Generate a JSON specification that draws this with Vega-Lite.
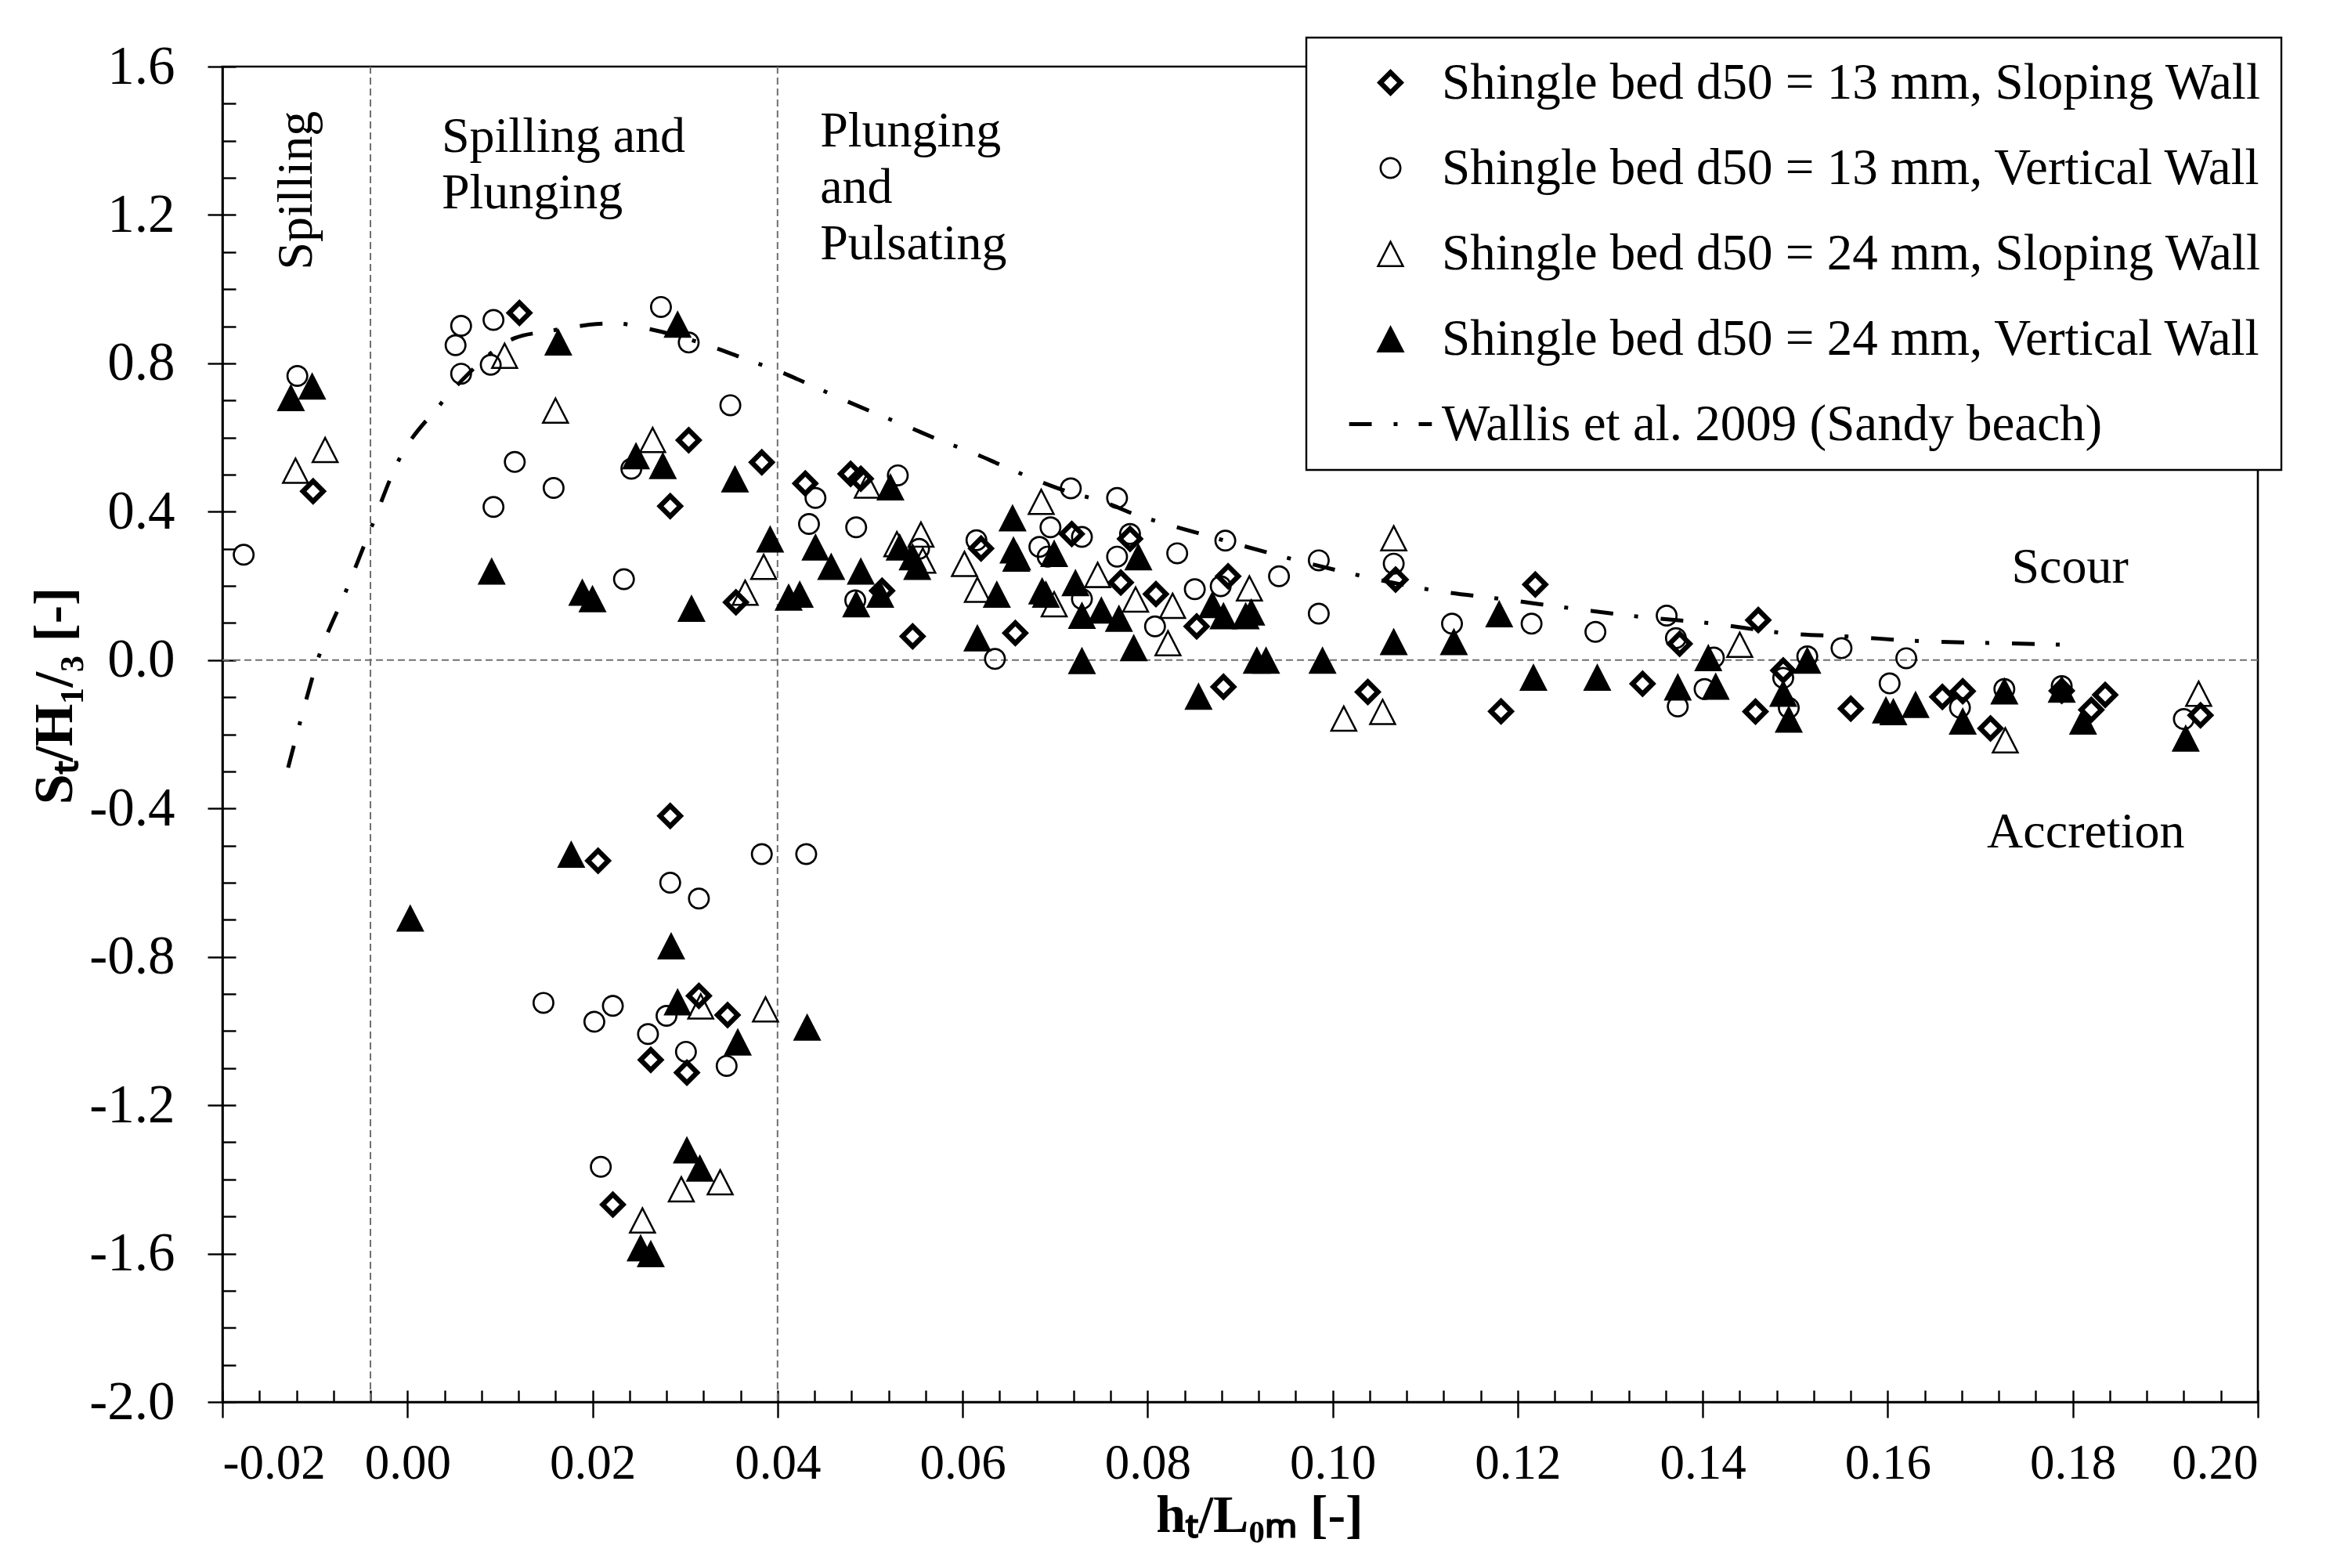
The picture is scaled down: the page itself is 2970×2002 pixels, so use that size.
{
  "$schema": "https://vega.github.io/schema/vega-lite/v6.json",
  "width": 2599,
  "height": 1705,
  "autosize": {"type": "none"},
  "padding": {"left": 284, "top": 85, "right": 87, "bottom": 212},
  "background": "white",
  "config": {
    "view": {"stroke": "black", "strokeWidth": 2.6},
    "font": "Liberation Serif",
    "axis": {
      "labelFont": "Liberation Serif", "titleFont": "Liberation Serif",
      "labelColor": "black", "titleColor": "black",
      "domainColor": "black", "tickColor": "black",
      "domainWidth": 2.6, "tickWidth": 2.4, "grid": false
    },
    "legend": {"strokeWidth": 2.4},
    "text": {"font": "Liberation Serif", "color": "black"}
  },
  "datasets": {
    "regimes": [{"x": -0.004}, {"x": 0.04}],
    "zero": [{"y": 0}],
    "regimeLabels": [
      {"x": 0.0037, "y": 1.37, "label": "Spilling and\nPlunging"},
      {"x": 0.0446, "y": 1.384, "label": "Plunging\nand\nPulsating"}
    ],
    "zoneLabels": [
      {"x": 0.1797, "y": 0.209, "label": "Scour"},
      {"x": 0.1814, "y": -0.505, "label": "Accretion"}
    ],
    "spilling": [{"x": -0.012, "y": 1.266, "label": "Spilling"}],
    "wallis": [
      {"x": -0.0129, "y": -0.29}, {"x": -0.0116, "y": -0.167}, {"x": -0.0096, "y": 0.008},
      {"x": -0.0067, "y": 0.183}, {"x": -0.0039, "y": 0.358}, {"x": -0.0011, "y": 0.531},
      {"x": 0.0033, "y": 0.682}, {"x": 0.0058, "y": 0.752}, {"x": 0.0116, "y": 0.868},
      {"x": 0.0151, "y": 0.886}, {"x": 0.0224, "y": 0.908}, {"x": 0.0262, "y": 0.892},
      {"x": 0.033, "y": 0.844}, {"x": 0.0368, "y": 0.809}, {"x": 0.0402, "y": 0.778},
      {"x": 0.0438, "y": 0.739}, {"x": 0.0472, "y": 0.701}, {"x": 0.0507, "y": 0.664},
      {"x": 0.0541, "y": 0.629}, {"x": 0.0576, "y": 0.592}, {"x": 0.0611, "y": 0.559},
      {"x": 0.0645, "y": 0.522}, {"x": 0.068, "y": 0.485}, {"x": 0.0716, "y": 0.452},
      {"x": 0.0751, "y": 0.428}, {"x": 0.0786, "y": 0.393}, {"x": 0.0821, "y": 0.366},
      {"x": 0.0858, "y": 0.34}, {"x": 0.0896, "y": 0.313}, {"x": 0.1003, "y": 0.243},
      {"x": 0.1114, "y": 0.186}, {"x": 0.1184, "y": 0.164}, {"x": 0.1263, "y": 0.138},
      {"x": 0.1335, "y": 0.116}, {"x": 0.1412, "y": 0.098}, {"x": 0.1487, "y": 0.073},
      {"x": 0.156, "y": 0.063}, {"x": 0.1635, "y": 0.051}, {"x": 0.1712, "y": 0.046},
      {"x": 0.1799, "y": 0.041}
    ],
    "points": [
      {"x": -0.0102, "y": 0.455, "series": "Shingle bed d50 = 13 mm, Sloping Wall"},
      {"x": 0.0121, "y": 0.936, "series": "Shingle bed d50 = 13 mm, Sloping Wall"},
      {"x": 0.0304, "y": 0.593, "series": "Shingle bed d50 = 13 mm, Sloping Wall"},
      {"x": 0.0284, "y": 0.415, "series": "Shingle bed d50 = 13 mm, Sloping Wall"},
      {"x": 0.0383, "y": 0.533, "series": "Shingle bed d50 = 13 mm, Sloping Wall"},
      {"x": 0.043, "y": 0.476, "series": "Shingle bed d50 = 13 mm, Sloping Wall"},
      {"x": 0.0355, "y": 0.156, "series": "Shingle bed d50 = 13 mm, Sloping Wall"},
      {"x": 0.0513, "y": 0.187, "series": "Shingle bed d50 = 13 mm, Sloping Wall"},
      {"x": 0.0479, "y": 0.502, "series": "Shingle bed d50 = 13 mm, Sloping Wall"},
      {"x": 0.049, "y": 0.489, "series": "Shingle bed d50 = 13 mm, Sloping Wall"},
      {"x": 0.0546, "y": 0.064, "series": "Shingle bed d50 = 13 mm, Sloping Wall"},
      {"x": 0.062, "y": 0.301, "series": "Shingle bed d50 = 13 mm, Sloping Wall"},
      {"x": 0.0657, "y": 0.073, "series": "Shingle bed d50 = 13 mm, Sloping Wall"},
      {"x": 0.0718, "y": 0.34, "series": "Shingle bed d50 = 13 mm, Sloping Wall"},
      {"x": 0.0781, "y": 0.327, "series": "Shingle bed d50 = 13 mm, Sloping Wall"},
      {"x": 0.0771, "y": 0.209, "series": "Shingle bed d50 = 13 mm, Sloping Wall"},
      {"x": 0.0809, "y": 0.178, "series": "Shingle bed d50 = 13 mm, Sloping Wall"},
      {"x": 0.0853, "y": 0.091, "series": "Shingle bed d50 = 13 mm, Sloping Wall"},
      {"x": 0.0887, "y": 0.226, "series": "Shingle bed d50 = 13 mm, Sloping Wall"},
      {"x": 0.1068, "y": 0.217, "series": "Shingle bed d50 = 13 mm, Sloping Wall"},
      {"x": 0.0882, "y": -0.072, "series": "Shingle bed d50 = 13 mm, Sloping Wall"},
      {"x": 0.1038, "y": -0.086, "series": "Shingle bed d50 = 13 mm, Sloping Wall"},
      {"x": 0.1219, "y": 0.204, "series": "Shingle bed d50 = 13 mm, Sloping Wall"},
      {"x": 0.1182, "y": -0.138, "series": "Shingle bed d50 = 13 mm, Sloping Wall"},
      {"x": 0.1335, "y": -0.064, "series": "Shingle bed d50 = 13 mm, Sloping Wall"},
      {"x": 0.1375, "y": 0.044, "series": "Shingle bed d50 = 13 mm, Sloping Wall"},
      {"x": 0.146, "y": 0.108, "series": "Shingle bed d50 = 13 mm, Sloping Wall"},
      {"x": 0.1457, "y": -0.139, "series": "Shingle bed d50 = 13 mm, Sloping Wall"},
      {"x": 0.1487, "y": -0.028, "series": "Shingle bed d50 = 13 mm, Sloping Wall"},
      {"x": 0.156, "y": -0.131, "series": "Shingle bed d50 = 13 mm, Sloping Wall"},
      {"x": 0.1659, "y": -0.099, "series": "Shingle bed d50 = 13 mm, Sloping Wall"},
      {"x": 0.1681, "y": -0.084, "series": "Shingle bed d50 = 13 mm, Sloping Wall"},
      {"x": 0.1711, "y": -0.184, "series": "Shingle bed d50 = 13 mm, Sloping Wall"},
      {"x": 0.1788, "y": -0.083, "series": "Shingle bed d50 = 13 mm, Sloping Wall"},
      {"x": 0.1835, "y": -0.094, "series": "Shingle bed d50 = 13 mm, Sloping Wall"},
      {"x": 0.182, "y": -0.134, "series": "Shingle bed d50 = 13 mm, Sloping Wall"},
      {"x": 0.1938, "y": -0.149, "series": "Shingle bed d50 = 13 mm, Sloping Wall"},
      {"x": 0.0206, "y": -0.541, "series": "Shingle bed d50 = 13 mm, Sloping Wall"},
      {"x": 0.0284, "y": -0.42, "series": "Shingle bed d50 = 13 mm, Sloping Wall"},
      {"x": 0.0315, "y": -0.905, "series": "Shingle bed d50 = 13 mm, Sloping Wall"},
      {"x": 0.0346, "y": -0.957, "series": "Shingle bed d50 = 13 mm, Sloping Wall"},
      {"x": 0.0263, "y": -1.078, "series": "Shingle bed d50 = 13 mm, Sloping Wall"},
      {"x": 0.0302, "y": -1.112, "series": "Shingle bed d50 = 13 mm, Sloping Wall"},
      {"x": 0.0222, "y": -1.468, "series": "Shingle bed d50 = 13 mm, Sloping Wall"},

      {"x": -0.0177, "y": 0.284, "series": "Shingle bed d50 = 13 mm, Vertical Wall"},
      {"x": -0.0119, "y": 0.766, "series": "Shingle bed d50 = 13 mm, Vertical Wall"},
      {"x": 0.0058, "y": 0.901, "series": "Shingle bed d50 = 13 mm, Vertical Wall"},
      {"x": 0.0052, "y": 0.849, "series": "Shingle bed d50 = 13 mm, Vertical Wall"},
      {"x": 0.0058, "y": 0.772, "series": "Shingle bed d50 = 13 mm, Vertical Wall"},
      {"x": 0.0093, "y": 0.917, "series": "Shingle bed d50 = 13 mm, Vertical Wall"},
      {"x": 0.009, "y": 0.796, "series": "Shingle bed d50 = 13 mm, Vertical Wall"},
      {"x": 0.0116, "y": 0.534, "series": "Shingle bed d50 = 13 mm, Vertical Wall"},
      {"x": 0.0158, "y": 0.464, "series": "Shingle bed d50 = 13 mm, Vertical Wall"},
      {"x": 0.0093, "y": 0.413, "series": "Shingle bed d50 = 13 mm, Vertical Wall"},
      {"x": 0.0234, "y": 0.218, "series": "Shingle bed d50 = 13 mm, Vertical Wall"},
      {"x": 0.0274, "y": 0.952, "series": "Shingle bed d50 = 13 mm, Vertical Wall"},
      {"x": 0.0304, "y": 0.856, "series": "Shingle bed d50 = 13 mm, Vertical Wall"},
      {"x": 0.0242, "y": 0.516, "series": "Shingle bed d50 = 13 mm, Vertical Wall"},
      {"x": 0.0349, "y": 0.687, "series": "Shingle bed d50 = 13 mm, Vertical Wall"},
      {"x": 0.0441, "y": 0.437, "series": "Shingle bed d50 = 13 mm, Vertical Wall"},
      {"x": 0.0434, "y": 0.367, "series": "Shingle bed d50 = 13 mm, Vertical Wall"},
      {"x": 0.0485, "y": 0.358, "series": "Shingle bed d50 = 13 mm, Vertical Wall"},
      {"x": 0.0484, "y": 0.161, "series": "Shingle bed d50 = 13 mm, Vertical Wall"},
      {"x": 0.053, "y": 0.498, "series": "Shingle bed d50 = 13 mm, Vertical Wall"},
      {"x": 0.0553, "y": 0.3, "series": "Shingle bed d50 = 13 mm, Vertical Wall"},
      {"x": 0.0615, "y": 0.323, "series": "Shingle bed d50 = 13 mm, Vertical Wall"},
      {"x": 0.0635, "y": 0.003, "series": "Shingle bed d50 = 13 mm, Vertical Wall"},
      {"x": 0.0695, "y": 0.358, "series": "Shingle bed d50 = 13 mm, Vertical Wall"},
      {"x": 0.0683, "y": 0.305, "series": "Shingle bed d50 = 13 mm, Vertical Wall"},
      {"x": 0.0692, "y": 0.279, "series": "Shingle bed d50 = 13 mm, Vertical Wall"},
      {"x": 0.0717, "y": 0.463, "series": "Shingle bed d50 = 13 mm, Vertical Wall"},
      {"x": 0.0729, "y": 0.332, "series": "Shingle bed d50 = 13 mm, Vertical Wall"},
      {"x": 0.0729, "y": 0.165, "series": "Shingle bed d50 = 13 mm, Vertical Wall"},
      {"x": 0.0767, "y": 0.437, "series": "Shingle bed d50 = 13 mm, Vertical Wall"},
      {"x": 0.0781, "y": 0.34, "series": "Shingle bed d50 = 13 mm, Vertical Wall"},
      {"x": 0.0767, "y": 0.279, "series": "Shingle bed d50 = 13 mm, Vertical Wall"},
      {"x": 0.0808, "y": 0.091, "series": "Shingle bed d50 = 13 mm, Vertical Wall"},
      {"x": 0.0832, "y": 0.288, "series": "Shingle bed d50 = 13 mm, Vertical Wall"},
      {"x": 0.0851, "y": 0.191, "series": "Shingle bed d50 = 13 mm, Vertical Wall"},
      {"x": 0.0884, "y": 0.322, "series": "Shingle bed d50 = 13 mm, Vertical Wall"},
      {"x": 0.0879, "y": 0.199, "series": "Shingle bed d50 = 13 mm, Vertical Wall"},
      {"x": 0.0942, "y": 0.226, "series": "Shingle bed d50 = 13 mm, Vertical Wall"},
      {"x": 0.0985, "y": 0.269, "series": "Shingle bed d50 = 13 mm, Vertical Wall"},
      {"x": 0.0985, "y": 0.125, "series": "Shingle bed d50 = 13 mm, Vertical Wall"},
      {"x": 0.1066, "y": 0.26, "series": "Shingle bed d50 = 13 mm, Vertical Wall"},
      {"x": 0.1129, "y": 0.098, "series": "Shingle bed d50 = 13 mm, Vertical Wall"},
      {"x": 0.1215, "y": 0.098, "series": "Shingle bed d50 = 13 mm, Vertical Wall"},
      {"x": 0.1284, "y": 0.076, "series": "Shingle bed d50 = 13 mm, Vertical Wall"},
      {"x": 0.1361, "y": 0.12, "series": "Shingle bed d50 = 13 mm, Vertical Wall"},
      {"x": 0.1371, "y": 0.059, "series": "Shingle bed d50 = 13 mm, Vertical Wall"},
      {"x": 0.1373, "y": -0.125, "series": "Shingle bed d50 = 13 mm, Vertical Wall"},
      {"x": 0.1412, "y": 0.007, "series": "Shingle bed d50 = 13 mm, Vertical Wall"},
      {"x": 0.1402, "y": -0.078, "series": "Shingle bed d50 = 13 mm, Vertical Wall"},
      {"x": 0.1493, "y": -0.129, "series": "Shingle bed d50 = 13 mm, Vertical Wall"},
      {"x": 0.1487, "y": -0.048, "series": "Shingle bed d50 = 13 mm, Vertical Wall"},
      {"x": 0.1513, "y": 0.01, "series": "Shingle bed d50 = 13 mm, Vertical Wall"},
      {"x": 0.155, "y": 0.032, "series": "Shingle bed d50 = 13 mm, Vertical Wall"},
      {"x": 0.1602, "y": -0.063, "series": "Shingle bed d50 = 13 mm, Vertical Wall"},
      {"x": 0.162, "y": 0.005, "series": "Shingle bed d50 = 13 mm, Vertical Wall"},
      {"x": 0.1678, "y": -0.128, "series": "Shingle bed d50 = 13 mm, Vertical Wall"},
      {"x": 0.1726, "y": -0.078, "series": "Shingle bed d50 = 13 mm, Vertical Wall"},
      {"x": 0.1788, "y": -0.07, "series": "Shingle bed d50 = 13 mm, Vertical Wall"},
      {"x": 0.192, "y": -0.159, "series": "Shingle bed d50 = 13 mm, Vertical Wall"},
      {"x": 0.0383, "y": -0.523, "series": "Shingle bed d50 = 13 mm, Vertical Wall"},
      {"x": 0.0431, "y": -0.523, "series": "Shingle bed d50 = 13 mm, Vertical Wall"},
      {"x": 0.0284, "y": -0.6, "series": "Shingle bed d50 = 13 mm, Vertical Wall"},
      {"x": 0.0315, "y": -0.643, "series": "Shingle bed d50 = 13 mm, Vertical Wall"},
      {"x": 0.0147, "y": -0.924, "series": "Shingle bed d50 = 13 mm, Vertical Wall"},
      {"x": 0.0222, "y": -0.932, "series": "Shingle bed d50 = 13 mm, Vertical Wall"},
      {"x": 0.0202, "y": -0.975, "series": "Shingle bed d50 = 13 mm, Vertical Wall"},
      {"x": 0.028, "y": -0.959, "series": "Shingle bed d50 = 13 mm, Vertical Wall"},
      {"x": 0.026, "y": -1.008, "series": "Shingle bed d50 = 13 mm, Vertical Wall"},
      {"x": 0.0301, "y": -1.056, "series": "Shingle bed d50 = 13 mm, Vertical Wall"},
      {"x": 0.0345, "y": -1.094, "series": "Shingle bed d50 = 13 mm, Vertical Wall"},
      {"x": 0.0209, "y": -1.366, "series": "Shingle bed d50 = 13 mm, Vertical Wall"},

      {"x": -0.0089, "y": 0.568, "series": "Shingle bed d50 = 24 mm, Sloping Wall"},
      {"x": -0.0121, "y": 0.512, "series": "Shingle bed d50 = 24 mm, Sloping Wall"},
      {"x": 0.0105, "y": 0.822, "series": "Shingle bed d50 = 24 mm, Sloping Wall"},
      {"x": 0.016, "y": 0.674, "series": "Shingle bed d50 = 24 mm, Sloping Wall"},
      {"x": 0.0265, "y": 0.595, "series": "Shingle bed d50 = 24 mm, Sloping Wall"},
      {"x": 0.0385, "y": 0.253, "series": "Shingle bed d50 = 24 mm, Sloping Wall"},
      {"x": 0.0365, "y": 0.183, "series": "Shingle bed d50 = 24 mm, Sloping Wall"},
      {"x": 0.0497, "y": 0.472, "series": "Shingle bed d50 = 24 mm, Sloping Wall"},
      {"x": 0.0529, "y": 0.314, "series": "Shingle bed d50 = 24 mm, Sloping Wall"},
      {"x": 0.0555, "y": 0.34, "series": "Shingle bed d50 = 24 mm, Sloping Wall"},
      {"x": 0.0557, "y": 0.27, "series": "Shingle bed d50 = 24 mm, Sloping Wall"},
      {"x": 0.0602, "y": 0.261, "series": "Shingle bed d50 = 24 mm, Sloping Wall"},
      {"x": 0.0616, "y": 0.191, "series": "Shingle bed d50 = 24 mm, Sloping Wall"},
      {"x": 0.0658, "y": 0.275, "series": "Shingle bed d50 = 24 mm, Sloping Wall"},
      {"x": 0.0685, "y": 0.428, "series": "Shingle bed d50 = 24 mm, Sloping Wall"},
      {"x": 0.0699, "y": 0.152, "series": "Shingle bed d50 = 24 mm, Sloping Wall"},
      {"x": 0.0746, "y": 0.231, "series": "Shingle bed d50 = 24 mm, Sloping Wall"},
      {"x": 0.0787, "y": 0.165, "series": "Shingle bed d50 = 24 mm, Sloping Wall"},
      {"x": 0.0827, "y": 0.148, "series": "Shingle bed d50 = 24 mm, Sloping Wall"},
      {"x": 0.0822, "y": 0.047, "series": "Shingle bed d50 = 24 mm, Sloping Wall"},
      {"x": 0.091, "y": 0.195, "series": "Shingle bed d50 = 24 mm, Sloping Wall"},
      {"x": 0.1066, "y": 0.33, "series": "Shingle bed d50 = 24 mm, Sloping Wall"},
      {"x": 0.1012, "y": -0.156, "series": "Shingle bed d50 = 24 mm, Sloping Wall"},
      {"x": 0.1054, "y": -0.138, "series": "Shingle bed d50 = 24 mm, Sloping Wall"},
      {"x": 0.144, "y": 0.043, "series": "Shingle bed d50 = 24 mm, Sloping Wall"},
      {"x": 0.1727, "y": -0.215, "series": "Shingle bed d50 = 24 mm, Sloping Wall"},
      {"x": 0.1936, "y": -0.089, "series": "Shingle bed d50 = 24 mm, Sloping Wall"},
      {"x": 0.0317, "y": -0.932, "series": "Shingle bed d50 = 24 mm, Sloping Wall"},
      {"x": 0.0387, "y": -0.94, "series": "Shingle bed d50 = 24 mm, Sloping Wall"},
      {"x": 0.0338, "y": -1.406, "series": "Shingle bed d50 = 24 mm, Sloping Wall"},
      {"x": 0.0296, "y": -1.425, "series": "Shingle bed d50 = 24 mm, Sloping Wall"},
      {"x": 0.0254, "y": -1.509, "series": "Shingle bed d50 = 24 mm, Sloping Wall"},

      {"x": -0.0126, "y": 0.708, "series": "Shingle bed d50 = 24 mm, Vertical Wall"},
      {"x": -0.0103, "y": 0.739, "series": "Shingle bed d50 = 24 mm, Vertical Wall"},
      {"x": 0.0163, "y": 0.858, "series": "Shingle bed d50 = 24 mm, Vertical Wall"},
      {"x": 0.0091, "y": 0.24, "series": "Shingle bed d50 = 24 mm, Vertical Wall"},
      {"x": 0.0189, "y": 0.183, "series": "Shingle bed d50 = 24 mm, Vertical Wall"},
      {"x": 0.02, "y": 0.166, "series": "Shingle bed d50 = 24 mm, Vertical Wall"},
      {"x": 0.0307, "y": 0.14, "series": "Shingle bed d50 = 24 mm, Vertical Wall"},
      {"x": 0.0292, "y": 0.906, "series": "Shingle bed d50 = 24 mm, Vertical Wall"},
      {"x": 0.0247, "y": 0.551, "series": "Shingle bed d50 = 24 mm, Vertical Wall"},
      {"x": 0.0276, "y": 0.525, "series": "Shingle bed d50 = 24 mm, Vertical Wall"},
      {"x": 0.0354, "y": 0.489, "series": "Shingle bed d50 = 24 mm, Vertical Wall"},
      {"x": 0.0392, "y": 0.327, "series": "Shingle bed d50 = 24 mm, Vertical Wall"},
      {"x": 0.0412, "y": 0.17, "series": "Shingle bed d50 = 24 mm, Vertical Wall"},
      {"x": 0.0424, "y": 0.178, "series": "Shingle bed d50 = 24 mm, Vertical Wall"},
      {"x": 0.0441, "y": 0.305, "series": "Shingle bed d50 = 24 mm, Vertical Wall"},
      {"x": 0.0458, "y": 0.253, "series": "Shingle bed d50 = 24 mm, Vertical Wall"},
      {"x": 0.049, "y": 0.24, "series": "Shingle bed d50 = 24 mm, Vertical Wall"},
      {"x": 0.0485, "y": 0.152, "series": "Shingle bed d50 = 24 mm, Vertical Wall"},
      {"x": 0.0511, "y": 0.178, "series": "Shingle bed d50 = 24 mm, Vertical Wall"},
      {"x": 0.0522, "y": 0.467, "series": "Shingle bed d50 = 24 mm, Vertical Wall"},
      {"x": 0.0532, "y": 0.305, "series": "Shingle bed d50 = 24 mm, Vertical Wall"},
      {"x": 0.0551, "y": 0.253, "series": "Shingle bed d50 = 24 mm, Vertical Wall"},
      {"x": 0.0546, "y": 0.279, "series": "Shingle bed d50 = 24 mm, Vertical Wall"},
      {"x": 0.0637, "y": 0.178, "series": "Shingle bed d50 = 24 mm, Vertical Wall"},
      {"x": 0.0616, "y": 0.06, "series": "Shingle bed d50 = 24 mm, Vertical Wall"},
      {"x": 0.0654, "y": 0.384, "series": "Shingle bed d50 = 24 mm, Vertical Wall"},
      {"x": 0.0655, "y": 0.297, "series": "Shingle bed d50 = 24 mm, Vertical Wall"},
      {"x": 0.0659, "y": 0.279, "series": "Shingle bed d50 = 24 mm, Vertical Wall"},
      {"x": 0.0699, "y": 0.288, "series": "Shingle bed d50 = 24 mm, Vertical Wall"},
      {"x": 0.0686, "y": 0.187, "series": "Shingle bed d50 = 24 mm, Vertical Wall"},
      {"x": 0.069, "y": 0.178, "series": "Shingle bed d50 = 24 mm, Vertical Wall"},
      {"x": 0.0722, "y": 0.209, "series": "Shingle bed d50 = 24 mm, Vertical Wall"},
      {"x": 0.0729, "y": 0.121, "series": "Shingle bed d50 = 24 mm, Vertical Wall"},
      {"x": 0.075, "y": 0.135, "series": "Shingle bed d50 = 24 mm, Vertical Wall"},
      {"x": 0.0729, "y": -0.001, "series": "Shingle bed d50 = 24 mm, Vertical Wall"},
      {"x": 0.079, "y": 0.279, "series": "Shingle bed d50 = 24 mm, Vertical Wall"},
      {"x": 0.0769, "y": 0.113, "series": "Shingle bed d50 = 24 mm, Vertical Wall"},
      {"x": 0.0785, "y": 0.034, "series": "Shingle bed d50 = 24 mm, Vertical Wall"},
      {"x": 0.0855, "y": -0.097, "series": "Shingle bed d50 = 24 mm, Vertical Wall"},
      {"x": 0.087, "y": 0.15, "series": "Shingle bed d50 = 24 mm, Vertical Wall"},
      {"x": 0.0882, "y": 0.12, "series": "Shingle bed d50 = 24 mm, Vertical Wall"},
      {"x": 0.0906, "y": 0.12, "series": "Shingle bed d50 = 24 mm, Vertical Wall"},
      {"x": 0.0912, "y": 0.13, "series": "Shingle bed d50 = 24 mm, Vertical Wall"},
      {"x": 0.0918, "y": 0.0, "series": "Shingle bed d50 = 24 mm, Vertical Wall"},
      {"x": 0.0928, "y": 0.0, "series": "Shingle bed d50 = 24 mm, Vertical Wall"},
      {"x": 0.0989, "y": 0.0, "series": "Shingle bed d50 = 24 mm, Vertical Wall"},
      {"x": 0.1066, "y": 0.05, "series": "Shingle bed d50 = 24 mm, Vertical Wall"},
      {"x": 0.1131, "y": 0.05, "series": "Shingle bed d50 = 24 mm, Vertical Wall"},
      {"x": 0.118, "y": 0.125, "series": "Shingle bed d50 = 24 mm, Vertical Wall"},
      {"x": 0.1217, "y": -0.046, "series": "Shingle bed d50 = 24 mm, Vertical Wall"},
      {"x": 0.1286, "y": -0.046, "series": "Shingle bed d50 = 24 mm, Vertical Wall"},
      {"x": 0.1373, "y": -0.072, "series": "Shingle bed d50 = 24 mm, Vertical Wall"},
      {"x": 0.1406, "y": 0.007, "series": "Shingle bed d50 = 24 mm, Vertical Wall"},
      {"x": 0.1414, "y": -0.07, "series": "Shingle bed d50 = 24 mm, Vertical Wall"},
      {"x": 0.1493, "y": -0.159, "series": "Shingle bed d50 = 24 mm, Vertical Wall"},
      {"x": 0.1487, "y": -0.089, "series": "Shingle bed d50 = 24 mm, Vertical Wall"},
      {"x": 0.1513, "y": 0.0, "series": "Shingle bed d50 = 24 mm, Vertical Wall"},
      {"x": 0.1598, "y": -0.134, "series": "Shingle bed d50 = 24 mm, Vertical Wall"},
      {"x": 0.1606, "y": -0.139, "series": "Shingle bed d50 = 24 mm, Vertical Wall"},
      {"x": 0.163, "y": -0.119, "series": "Shingle bed d50 = 24 mm, Vertical Wall"},
      {"x": 0.1681, "y": -0.164, "series": "Shingle bed d50 = 24 mm, Vertical Wall"},
      {"x": 0.1726, "y": -0.083, "series": "Shingle bed d50 = 24 mm, Vertical Wall"},
      {"x": 0.1788, "y": -0.078, "series": "Shingle bed d50 = 24 mm, Vertical Wall"},
      {"x": 0.1811, "y": -0.164, "series": "Shingle bed d50 = 24 mm, Vertical Wall"},
      {"x": 0.1922, "y": -0.21, "series": "Shingle bed d50 = 24 mm, Vertical Wall"},
      {"x": 0.0003, "y": -0.695, "series": "Shingle bed d50 = 24 mm, Vertical Wall"},
      {"x": 0.0177, "y": -0.523, "series": "Shingle bed d50 = 24 mm, Vertical Wall"},
      {"x": 0.0285, "y": -0.77, "series": "Shingle bed d50 = 24 mm, Vertical Wall"},
      {"x": 0.0292, "y": -0.921, "series": "Shingle bed d50 = 24 mm, Vertical Wall"},
      {"x": 0.0432, "y": -0.989, "series": "Shingle bed d50 = 24 mm, Vertical Wall"},
      {"x": 0.0357, "y": -1.029, "series": "Shingle bed d50 = 24 mm, Vertical Wall"},
      {"x": 0.0302, "y": -1.32, "series": "Shingle bed d50 = 24 mm, Vertical Wall"},
      {"x": 0.0316, "y": -1.369, "series": "Shingle bed d50 = 24 mm, Vertical Wall"},
      {"x": 0.0252, "y": -1.584, "series": "Shingle bed d50 = 24 mm, Vertical Wall"},
      {"x": 0.0263, "y": -1.6, "series": "Shingle bed d50 = 24 mm, Vertical Wall"}
    ]
  },
  "resolve": {"axis": {"x": "independent", "y": "independent"}},
  "layer": [
    {
      "data": {"name": "regimes"},
      "mark": {"type": "rule", "stroke": "#707070", "strokeWidth": 2, "strokeDash": [9, 5]},
      "encoding": {"x": {"field": "x", "type": "quantitative", "axis": null}}
    },
    {
      "data": {"name": "zero"},
      "mark": {"type": "rule", "stroke": "#707070", "strokeWidth": 2, "strokeDash": [9, 5]},
      "encoding": {"y": {"field": "y", "type": "quantitative", "axis": null}}
    },
    {
      "data": {"name": "wallis"},
      "mark": {"type": "line", "color": "black", "strokeWidth": 5, "strokeDash": [29, 27, 5, 29], "strokeCap": "butt", "interpolate": "monotone"},
      "encoding": {
        "x": {
          "field": "x", "type": "quantitative",
          "axis": {
            "orient": "bottom", "labels": false, "domain": false, "title": null, "tickSize": -15,
            "values": [-0.02, -0.016, -0.012, -0.008, -0.004, 0, 0.004, 0.008, 0.012, 0.016, 0.02, 0.024, 0.028, 0.032, 0.036, 0.04, 0.044, 0.048, 0.052, 0.056, 0.06, 0.064, 0.068, 0.072, 0.076, 0.08, 0.084, 0.088, 0.092, 0.096, 0.1, 0.104, 0.108, 0.112, 0.116, 0.12, 0.124, 0.128, 0.132, 0.136, 0.14, 0.144, 0.148, 0.152, 0.156, 0.16, 0.164, 0.168, 0.172, 0.176, 0.18, 0.184, 0.188, 0.192, 0.196, 0.2]
          }
        },
        "y": {
          "field": "y", "type": "quantitative",
          "axis": {
            "orient": "left", "labels": false, "domain": false, "title": null, "tickSize": -17,
            "values": [-2, -1.9, -1.8, -1.7, -1.6, -1.5, -1.4, -1.3, -1.2, -1.1, -1, -0.9, -0.8, -0.7, -0.6, -0.5, -0.4, -0.3, -0.2, -0.1, 0, 0.1, 0.2, 0.3, 0.4, 0.5, 0.6, 0.7, 0.8, 0.9, 1, 1.1, 1.2, 1.3, 1.4, 1.5, 1.6]
          }
        }
      }
    },
    {
      "data": {"name": "points"},
      "mark": {"type": "point", "filled": true, "color": "black", "strokeWidth": 0, "size": 1024, "opacity": 1},
      "encoding": {
        "x": {
          "field": "x", "type": "quantitative",
          "scale": {"domain": [-0.02, 0.2], "nice": false, "zero": false},
          "axis": {
            "orient": "bottom",
            "values": [-0.02, 0, 0.02, 0.04, 0.06, 0.08, 0.1, 0.12, 0.14, 0.16, 0.18, 0.2],
            "labelExpr": "replace(format(datum.value, '.2f'), '\u2212', '-')",
            "labelFontSize": 63, "labelPadding": 27, "tickSize": 20,
            "title": "hₜ/L₀ₘ [-]", "titleFontSize": 68, "titleFontWeight": "bold",
            "titleX": 1324, "titleY": 111
          }
        },
        "y": {
          "field": "y", "type": "quantitative",
          "scale": {"domain": [-2, 1.6], "nice": false, "zero": false},
          "axis": {
            "orient": "left",
            "values": [-2, -1.6, -1.2, -0.8, -0.4, 0, 0.4, 0.8, 1.2, 1.6],
            "labelExpr": "replace(format(datum.value, '.1f'), '\u2212', '-')",
            "labelFontSize": 69, "labelPadding": 42, "tickSize": 19,
            "title": "Sₜ/H₁/₃ [-]", "titleFontSize": 70, "titleFontWeight": "bold",
            "titleX": -178, "titleY": 803
          }
        },
        "shape": {
          "field": "series", "type": "nominal",
          "scale": {
            "domain": ["Shingle bed d50 = 13 mm, Sloping Wall", "Shingle bed d50 = 13 mm, Vertical Wall", "Shingle bed d50 = 24 mm, Sloping Wall", "Shingle bed d50 = 24 mm, Vertical Wall", "Wallis et al. 2009 (Sandy beach)"],
            "range": [
              "M0,-1.094L1.094,0L0,1.094L-1.094,0ZM0,-0.53L-0.53,0L0,0.53L0.53,0Z",
              "M-0.875,0A0.875,0.875,0,1,1,0.875,0A0.875,0.875,0,1,1,-0.875,0ZM-0.706,0A0.706,0.706,0,1,0,0.706,0A0.706,0.706,0,1,0,-0.706,0Z",
              "M0,-1.094L1.125,1.094L-1.125,1.094ZM0,-0.751L-0.869,0.9375L0.869,0.9375Z",
              "M0,-1.094L1.125,1.094L-1.125,1.094Z",
              "M-3.3,-0.156L-1.5,-0.156L-1.5,0.156L-3.3,0.156ZM0.25,-0.156L0.56,-0.156L0.56,0.156L0.25,0.156ZM2.25,-0.156L3.3,-0.156L3.3,0.156L2.25,0.156Z"
            ]
          },
          "legend": {
            "title": null, "orient": "none", "legendX": 1384, "legendY": -37,
            "padding": 25, "rowPadding": 43, "fillColor": "white", "strokeColor": "black",
            "labelFont": "Liberation Serif", "labelFontSize": 65, "labelColor": "black", "labelLimit": 2000,
            "labelOffset": 33, "symbolOffset": 50, "symbolSize": 1024,
            "labelExpr": "datum.label + '\u00a0\u00a0'",
            "symbolFillColor": "black", "symbolStrokeWidth": 0
          }
        }
      }
    },
    {
      "data": {"name": "regimeLabels"},
      "mark": {"type": "text", "align": "left", "baseline": "alphabetic", "fontSize": 64, "lineHeight": 72, "lineBreak": "\n", "font": "Liberation Serif"},
      "encoding": {
        "x": {"field": "x", "type": "quantitative", "axis": null},
        "y": {"field": "y", "type": "quantitative", "axis": null},
        "text": {"field": "label"}
      }
    },
    {
      "data": {"name": "zoneLabels"},
      "mark": {"type": "text", "align": "center", "baseline": "alphabetic", "fontSize": 64, "font": "Liberation Serif"},
      "encoding": {
        "x": {"field": "x", "type": "quantitative", "axis": null},
        "y": {"field": "y", "type": "quantitative", "axis": null},
        "text": {"field": "label"}
      }
    },
    {
      "data": {"name": "spilling"},
      "mark": {"type": "text", "align": "center", "baseline": "middle", "angle": 270, "fontSize": 64, "font": "Liberation Serif"},
      "encoding": {
        "x": {"field": "x", "type": "quantitative", "axis": null},
        "y": {"field": "y", "type": "quantitative", "axis": null},
        "text": {"field": "label"}
      }
    }
  ]
}
